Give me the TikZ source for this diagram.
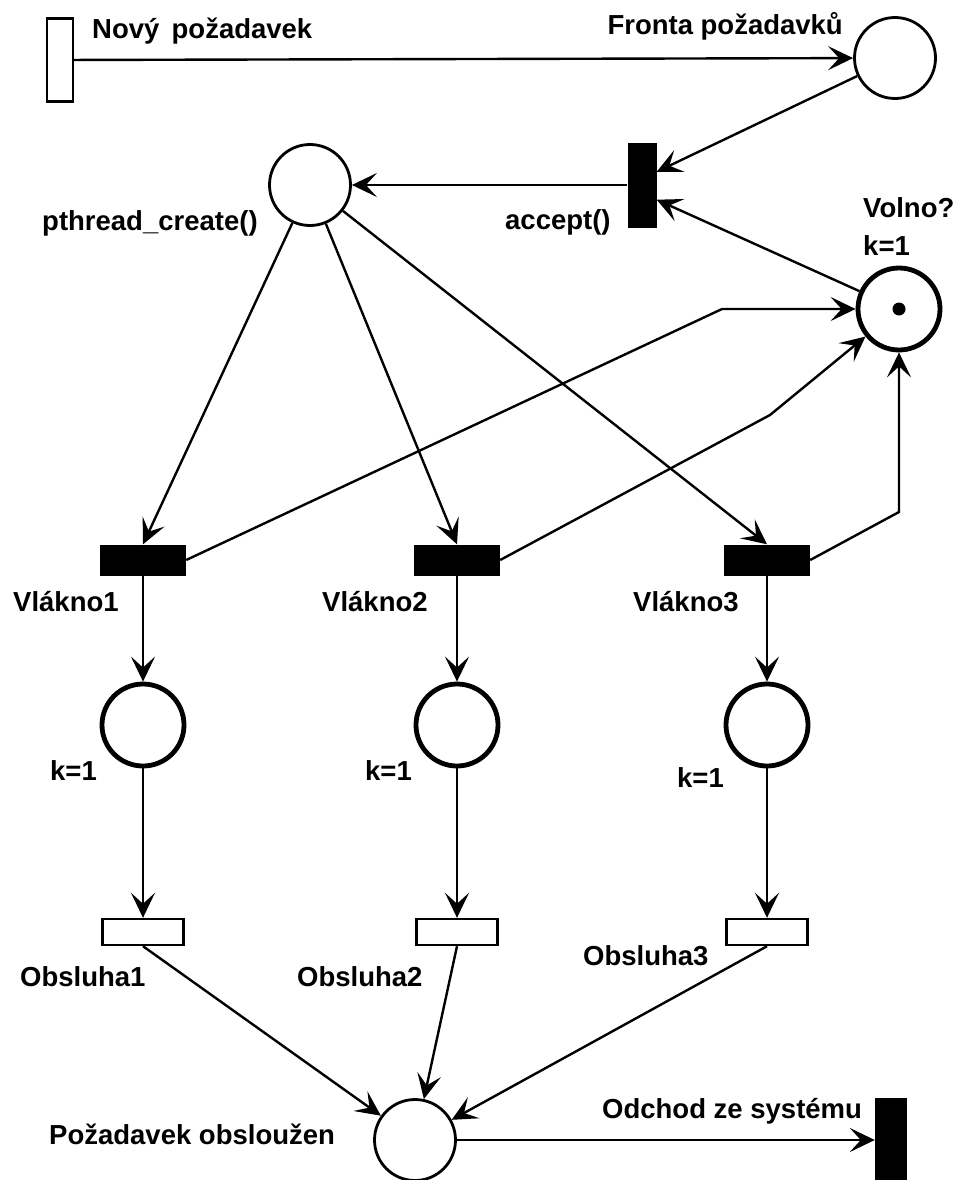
\documentclass[tikz,border=0pt]{standalone}
\usepackage{fontspec}
\setmainfont{Liberation Sans}
\usepackage{tikz}
\usetikzlibrary{arrows.meta, positioning}
\tikzset{place/.style={circle,draw,line width=2.8pt,minimum size=81pt,inner sep=0pt},
         thickplace/.style={circle,draw,line width=4.8pt,minimum size=82pt,inner sep=0pt},
         trans/.style={rectangle,draw,fill=white,line width=2.4pt,inner sep=0pt},
         blacktrans/.style={rectangle,fill=black,inner sep=0pt},
         lbl/.style={inner sep=0pt,font=\fontsize{27.5}{32}\selectfont\bfseries},
         arrow/.style={-{Stealth[length=25pt,width=24pt,inset=11pt]},line width=2.4pt}}

\begin{document}
\begin{tikzpicture}[x=1pt,y=-1pt]
    \useasboundingbox (0,0) rectangle (960,1180);
    % Places
    \node (fronta) [place] at (895,58) {};
    \node (pthread) [place] at (310,185) {};
    \node (volno) [thickplace] at (899,309) {};
    \node (token) [circle,fill,minimum size=13pt,inner sep=0pt] at (volno) {};
    \node (k1) [thickplace] at (143,725) {};
    \node (k2) [thickplace] at (457,725) {};
    \node (k3) [thickplace] at (767,725) {};
    \node (obsl) [place] at (415,1140) {};
    % Transitions
    \node (novy) [trans, minimum width=26pt, minimum height=83pt] at (60,60) {};
    \node (accept) [blacktrans, minimum width=29pt, minimum height=85pt] at (642,185) {};
    \node (v1) [blacktrans, minimum width=86pt, minimum height=31pt] at (143,560) {};
    \node (v2) [blacktrans, minimum width=86pt, minimum height=31pt] at (457,560) {};
    \node (v3) [blacktrans, minimum width=86pt, minimum height=31pt] at (767,560) {};
    \node (o1) [trans, minimum width=81pt, minimum height=26pt] at (143,932) {};
    \node (o2) [trans, minimum width=81pt, minimum height=26pt] at (457,932) {};
    \node (o3) [trans, minimum width=81pt, minimum height=26pt] at (767,932) {};
    \node (odchod) [blacktrans, minimum width=32pt, minimum height=85pt] at (891,1140) {};
    % Labels
    \node (lnovy) [lbl, anchor=base west] at (92,39) {Nový\ \,požadavek};
    \node (lfronta) [lbl, anchor=base east] at (843,35) {Fronta požadavků};
    \node (lpthread) [lbl, anchor=base west] at (42,230) {pthread\_create()};
    \node (laccept) [lbl, anchor=base west] at (505,229) {accept()};
    \node (lvolno) [lbl, anchor=base west] at (863,217) {Volno?};
    \node (lkvolno) [lbl, anchor=base west] at (863,255) {k=1};
    \node (lv1) [lbl, anchor=base west] at (13,611) {Vlákno1};
    \node (lv2) [lbl, anchor=base west] at (322,611) {Vlákno2};
    \node (lv3) [lbl, anchor=base west] at (633,611) {Vlákno3};
    \node (lk1) [lbl, anchor=base west] at (50,780) {k=1};
    \node (lk2) [lbl, anchor=base west] at (365,780) {k=1};
    \node (lk3) [lbl, anchor=base west] at (677,787) {k=1};
    \node (lo1) [lbl, anchor=base west] at (20,986) {Obsluha1};
    \node (lo2) [lbl, anchor=base west] at (297,986) {Obsluha2};
    \node (lo3) [lbl, anchor=base west] at (583,965) {Obsluha3};
    \node (lobsl) [lbl, anchor=base west] at (49,1144) {Požadavek obsloužen};
    \node (lodchod) [lbl, anchor=base west] at (602,1118) {Odchod ze systému};
    % Bends of the return arcs
    \coordinate (b1) at (722,309);
    \coordinate (b2) at (770,415);
    \coordinate (b3) at (899,512);
    % Arcs
    \draw[arrow] (novy) -- (fronta);
    \draw[arrow] (fronta) -- (accept.42);
    \draw[arrow] (volno) -- (accept.-45);
    \draw[arrow] (accept) -- (pthread);
    \draw[arrow] (pthread) -- (v1.north);
    \draw[arrow] (pthread) -- (v2.north);
    \draw[arrow] (pthread) -- (v3.north);
    \draw[arrow] (v1.east) -- (b1) -- (volno);
    \draw[arrow] (v2.east) -- (b2) -- (volno);
    \draw[arrow] (v3.east) -- (b3) -- (volno);
    \draw[arrow] (v1) -- (k1);
    \draw[arrow] (v2) -- (k2);
    \draw[arrow] (v3) -- (k3);
    \draw[arrow] (k1) -- (o1);
    \draw[arrow] (k2) -- (o2);
    \draw[arrow] (k3) -- (o3);
    \draw[arrow] (o1.south) -- (obsl);
    \draw[arrow] (o2.south) -- (obsl);
    \draw[arrow] (o3.south) -- (obsl);
    \draw[arrow] (obsl) -- (odchod);
\end{tikzpicture}
\end{document}
